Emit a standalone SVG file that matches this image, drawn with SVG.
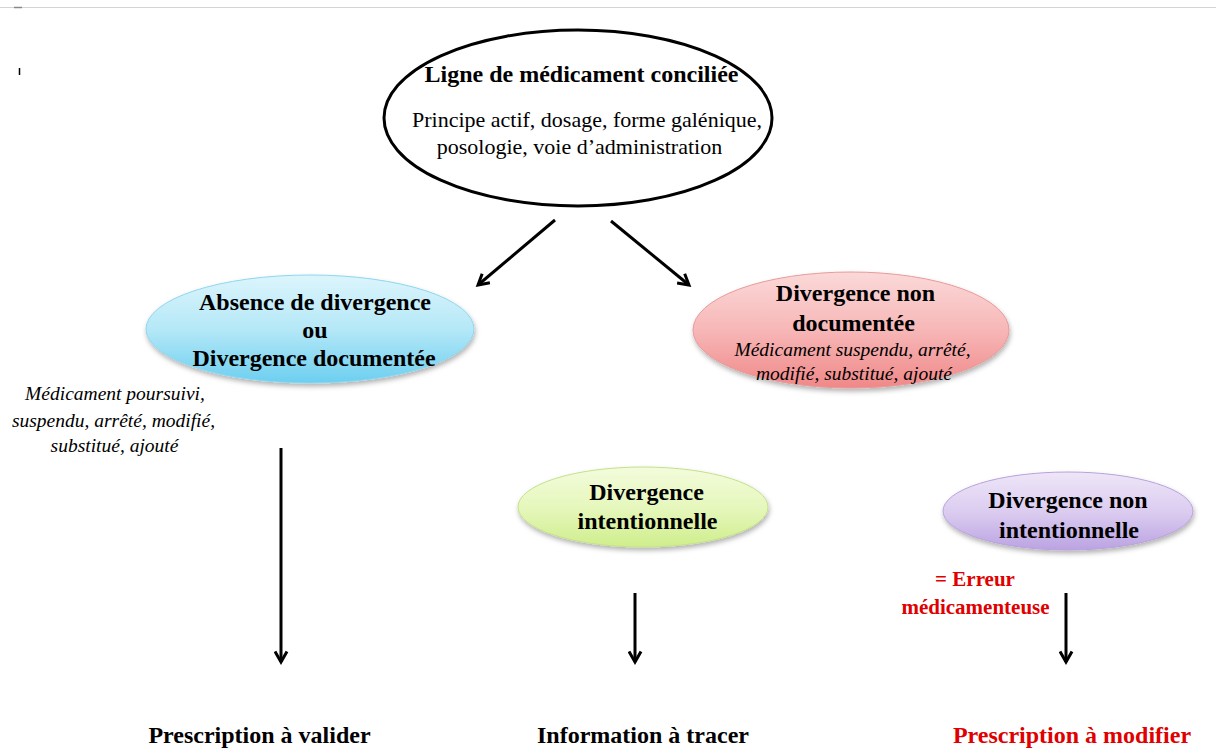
<svg xmlns="http://www.w3.org/2000/svg" width="1216" height="749" viewBox="0 0 1216 749">
<style>
.b{font-family:"Liberation Serif","Times New Roman",serif;font-weight:bold;font-size:24px;fill:#000;text-anchor:middle}
.r{font-family:"Liberation Serif","Times New Roman",serif;font-size:22px;fill:#000;text-anchor:middle}
.i{font-family:"Liberation Serif","Times New Roman",serif;font-style:italic;font-size:19.5px;fill:#000;text-anchor:middle}
.red{fill:#e00000}
.conn line{stroke:#000;stroke-width:3;fill:none;marker-end:url(#ah)}
</style>
<defs>
<marker id="ah" viewBox="0 0 10 10" refX="8" refY="5" markerWidth="5" markerHeight="5" orient="auto" markerUnits="strokeWidth">
<path d="M1,1 L8,5 L1,9" fill="none" stroke="#000" stroke-width="2" stroke-linejoin="miter"/>
</marker>
<filter id="sh" x="-10%" y="-15%" width="120%" height="140%">
<feDropShadow dx="1" dy="3" stdDeviation="2.5" flood-color="#000" flood-opacity="0.3"/>
</filter>
<linearGradient id="gb" x1="0" y1="0" x2="0" y2="1">
<stop offset="0" stop-color="#dcf5fc"/><stop offset="0.5" stop-color="#b5e8f7"/><stop offset="1" stop-color="#6ccff0"/>
</linearGradient>
<linearGradient id="gr" x1="0" y1="0" x2="0" y2="1">
<stop offset="0" stop-color="#fbd9d9"/><stop offset="0.5" stop-color="#f7b7b7"/><stop offset="1" stop-color="#f08888"/>
</linearGradient>
<linearGradient id="gg" x1="0" y1="0" x2="0" y2="1">
<stop offset="0" stop-color="#f3fcdc"/><stop offset="0.5" stop-color="#e6f7bd"/><stop offset="1" stop-color="#cfee8c"/>
</linearGradient>
<linearGradient id="gp" x1="0" y1="0" x2="0" y2="1">
<stop offset="0" stop-color="#eee6f8"/><stop offset="0.5" stop-color="#dccdf0"/><stop offset="1" stop-color="#bba3e2"/>
</linearGradient>
</defs>
<rect width="1216" height="749" fill="#fff"/>
<line x1="0" y1="7.5" x2="1216" y2="7.5" stroke="#d4d4d4" stroke-width="1"/>
<line x1="14" y1="7.5" x2="22" y2="7.5" stroke="#888" stroke-width="1.5"/>
<line x1="19.5" y1="68" x2="19.5" y2="75" stroke="#000" stroke-width="1.5"/>

<g id="node-ligne">
<ellipse cx="578" cy="118" rx="194" ry="88" fill="#fff" stroke="#000" stroke-width="3"/>
<text class="b" x="581.5" y="82">Ligne de médicament conciliée</text>
<text class="r" x="587" y="127">Principe actif, dosage, forme galénique,</text>
<text class="r" x="579.5" y="154">posologie, voie d’administration</text>
</g>

<g id="node-absence">
<ellipse cx="310" cy="329" rx="164" ry="54" fill="url(#gb)" stroke="#8fd6ee" stroke-width="1" filter="url(#sh)"/>
<text class="b" x="315" y="310">Absence de divergence</text>
<text class="b" x="315" y="338">ou</text>
<text class="b" x="314" y="366">Divergence documentée</text>
</g>

<g id="note-absence">
<text class="i" x="115" y="400">Médicament poursuivi,</text>
<text class="i" x="113.5" y="427">suspendu, arrêté, modifié,</text>
<text class="i" x="114.5" y="452">substitué, ajouté</text>
</g>

<g id="node-non-doc">
<ellipse cx="851" cy="330" rx="158" ry="58" fill="url(#gr)" stroke="#e89a9a" stroke-width="1" filter="url(#sh)"/>
<text class="b" x="855.5" y="301">Divergence non</text>
<text class="b" x="853.5" y="331">documentée</text>
<text class="i" x="852.5" y="356">Médicament suspendu, arrêté,</text>
<text class="i" x="854" y="380">modifié, substitué, ajouté</text>
</g>

<g id="node-intent">
<ellipse cx="643" cy="507" rx="125" ry="40" fill="url(#gg)" stroke="#c5e08a" stroke-width="1" filter="url(#sh)"/>
<text class="b" x="646.5" y="500">Divergence</text>
<text class="b" x="647.5" y="529">intentionnelle</text>
</g>

<g id="node-non-intent">
<ellipse cx="1068" cy="511" rx="125" ry="39" fill="url(#gp)" stroke="#b8a2dc" stroke-width="1" filter="url(#sh)"/>
<text class="b" x="1068" y="508">Divergence non</text>
<text class="b" x="1069" y="538">intentionnelle</text>
</g>

<g id="note-erreur">
<text class="b red" x="975" y="586" style="font-size:21px">= Erreur</text>
<text class="b red" x="975.5" y="614" style="font-size:21px">médicamenteuse</text>
</g>

<g id="out-valider"><text class="b" x="259.5" y="743">Prescription à valider</text></g>
<g id="out-tracer"><text class="b" x="643" y="743">Information à tracer</text></g>
<g id="out-modifier"><text class="b red" x="1072" y="743">Prescription à modifier</text></g>

<g id="connectors" class="conn">
<line x1="555" y1="220" x2="478" y2="285"/>
<line x1="611" y1="221" x2="689" y2="285"/>
<line x1="281" y1="448" x2="281" y2="662"/>
<line x1="635" y1="593" x2="635" y2="662"/>
<line x1="1066" y1="593" x2="1066" y2="662"/>
</g>
</svg>
